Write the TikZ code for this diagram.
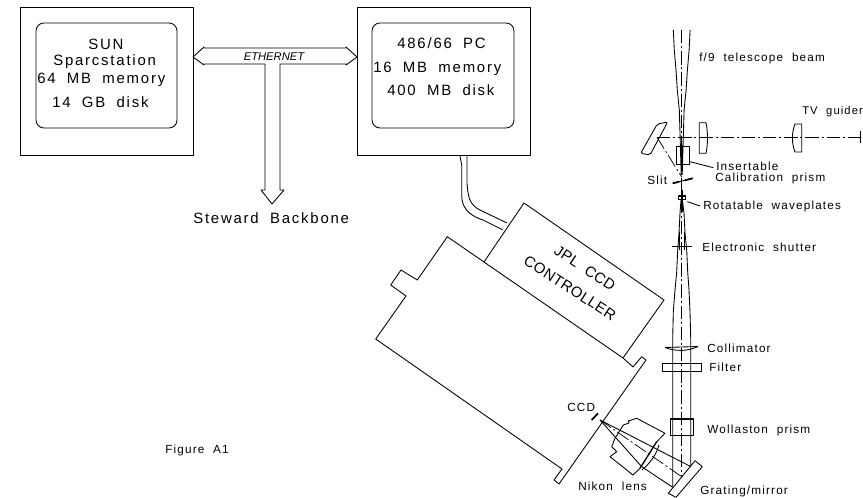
\documentclass[tikz,border=0pt]{standalone}
\usepackage{fontspec}
\setmainfont{Liberation Sans}
\newfontfamily\cadfont[LetterSpace=12,WordSpace=1.9]{Liberation Sans}
\newfontfamily\cadsmall[LetterSpace=10,WordSpace=2]{Liberation Sans}
\newfontfamily\cadrot[LetterSpace=3,WordSpace=2]{Liberation Sans}
\newcommand{\bigsz}{\fontsize{11.2}{13}\selectfont\cadfont}
\newcommand{\smsz}{\fontsize{8.8}{10}\selectfont\cadsmall}
\newcommand{\rotsz}{\fontsize{11.2}{13}\selectfont\cadrot}
\tikzset{
  ln/.style={draw=black,line width=0.65pt,line join=round},
  axis/.style={draw=black,line width=0.55pt,dash pattern=on 10pt off 2.2pt on 1.5pt off 2.2pt},
  thick ln/.style={draw=black,line width=1.6pt},
  big/.style={inner sep=0pt,anchor=west,font=\bigsz},
  small/.style={inner sep=0pt,anchor=west,font=\smsz}
}
\begin{document}
\begin{tikzpicture}[x=0.75pt,y=-0.75pt]
\path[use as bounding box,fill=white] (0,0) rectangle (863,498);
% computer boxes
\draw[ln] (20.5,7) rectangle (193,155);
\draw[ln,rounded corners=6pt] (36,23) rectangle (177,128);
\draw[ln] (357,7) rectangle (530,155);
\draw[ln,rounded corners=6pt] (372,23) rectangle (514,128);
\node[big] (t1) at (88,44) {SUN};
\node[big] (t2) at (53,62) {Sparcstation};
\node[big] (t3) at (37,80) {64 MB memory};
\node[big] (t4) at (52,102) {14 GB disk};
\node[big] (t5) at (397,43) {486/66 PC};
\node[big] (t6) at (373,69) {16 MB memory};
\node[big] (t7) at (387,90) {400 MB disk};
% ethernet
\draw[ln] (193,57) -- (204,47) -- (204,48) -- (346,48) -- (346,47) -- (357,57) -- (346,65) -- (346,64)
  -- (280,64) -- (280,190) -- (284,190) -- (272,204) -- (261,190) -- (265,190) -- (265,64) -- (204,64) -- (204,65) -- cycle;
\node[inner sep=0pt,font=\fontsize{8.4}{9}\selectfont\itshape] (eth) at (274,57) {ETHERNET};
\node[big] (bb) at (193,218) {Steward Backbone};
% cable
\draw[ln] (460,156) -- (461.7,165) -- (461.7,196) .. controls (462,206) and (467,215) .. (483,220) -- (503,230);
\draw[ln] (467,156) -- (467,183) .. controls (468,198) and (470,205) .. (480,210) -- (507,223);
% controller and camera
\draw[ln] (484,262) -- (524,203) -- (664,300) -- (623,358);
\draw[ln] (375.7,339) -- (406,296) -- (390.7,285) -- (401,270) -- (417.3,280) -- (447.3,236.7)
  -- (623,358) -- (633,367) -- (641.7,356.7) -- (646,360) -- (559,484) -- (554,480) -- (562,469) -- cycle;
\node[inner sep=0pt,rotate=-33,font=\rotsz] (c1) at (585,268) {JPL CCD};
\node[inner sep=0pt,rotate=-33,font=\rotsz] (c2) at (570,288) {CONTROLLER};
% telescope beam
\draw[ln] (673.3,30) -- (674.3,50) -- (676,70) -- (677.3,90) -- (679.3,110) -- (680,133) -- (681.2,175);
\draw[ln] (690.1,30) -- (689.1,50) -- (687.4,70) -- (686.1,90) -- (684.1,110) -- (683.4,133) -- (682.2,175);
\draw[axis] (681.7,30) -- (681.7,477);
\draw[ln] (681,200) -- (680,213) -- (679,233) -- (677.7,250) -- (676.7,272) -- (675,290) -- (673.3,312) -- (672.7,338) -- (672.7,487);
\draw[ln] (682.4,200) -- (684,213) -- (685,233) -- (686.7,250) -- (687.7,272) -- (689,290) -- (690,312) -- (690.7,338) -- (690.7,466);
\draw[thick ln] (681.7,145) -- (681.7,170);
\draw[thick ln] (681.7,190) -- (681.7,212);
% guider
\draw[axis] (657,137.3) -- (860,137.3);
\draw[ln] (860,131) -- (860,143);
\draw[ln,rounded corners=1.5pt] (640.7,153.3) -- (657.3,124) -- (667.7,122) -- (650,155) -- cycle;
\draw[axis] (657,137.3) -- (681.7,177);
\draw[ln] (699.3,122.7) -- (706,122.7) .. controls (708,132) and (708,144) .. (706,153.3) -- (699.3,153.3) -- cycle;
\draw[ln] (801.7,124) -- (795,124) .. controls (791.5,133) and (791.5,143) .. (795,152) -- (801.7,152) -- cycle;
\node[small,font=\fontsize{8.4}{10}\selectfont\cadsmall] (tv) at (802,112) {TV guider};
\node[small] (f9) at (699,58) {f/9 telescope beam};
% prism and slit
\draw[ln] (676,146) rectangle (689,164.3);
\draw[ln] (690,161.7) -- (713.3,167.7);
\node[small] (i1) at (716,166) {Insertable};
\node[small] (i2) at (715,178) {Calibration prism};
\draw[ln] (672.7,183.3) -- (692.7,178.3);
\draw[draw=black,line width=1.3pt] (672.7,183.3) -- (679,181.8);
\draw[draw=black,line width=1.3pt] (685,180.3) -- (692.7,178.3);
\node[small] (sl) at (647,180) {Slit};
\draw[ln,line width=0.9pt] (678.3,196) rectangle (685.7,199.5);
\draw[ln] (687.3,201.7) -- (700,206);
\node[small] (wp) at (703,206) {Rotatable waveplates};
\draw[ln] (672,246) -- (692,246);
\draw[ln] (679,232) -- (679,250);
\draw[ln] (684.6,232) -- (684.6,250);
\node[small] (es) at (702,247) {Electronic shutter};
% collimator
\draw[ln] (665,347.5) -- (698,346.5);
\draw[ln] (665,347.5) .. controls (675,351.5) and (688,351.5) .. (698,346.5);
\node[small] (co) at (707,348) {Collimator};
\draw[ln] (662.3,363.3) rectangle (701,371.7);
\node[small] (fi) at (709,367) {Filter};
\draw[ln,line width=0.9pt] (670.7,419) rectangle (693.3,435.7);
\node[small] (wo) at (707,430) {Wollaston prism};
% grating
\draw[ln] (668.3,493.3) -- (695,460.7) -- (702.3,466.7) -- (676,497.3) -- cycle;
\node[small] (gr) at (700,491) {Grating/mirror};
\node[small] (ni) at (578,486) {Nikon lens};
% camera lens
\draw[ln] (656.7,441.7) -- (665,433.3) -- (636.7,418.3) -- (628.3,421) -- (629,423) -- (623.3,425) -- (615,438.3)
  -- (611.7,446.7) -- (616.7,451.7) -- (610,456.7) -- (633,475) -- (640,468.3);
\draw[draw=black,line width=1pt] (656.7,441.7) -- (640,468.3);
\draw[ln] (659,445) .. controls (656,455) and (651,462) .. (642,470);
\draw[ln] (600,420) -- (691,466.7);
\draw[ln] (600,420) -- (641.7,466.7) -- (672.7,487.3);
\draw[axis] (600,420) -- (681.7,476.7);
\draw[draw=black,line width=1.3pt] (591.7,420) -- (598,413.3);
\node[small] (cc) at (567,407) {CCD};
\node[small] (fg) at (165,450) {Figure A1};
\end{tikzpicture}
\end{document}
